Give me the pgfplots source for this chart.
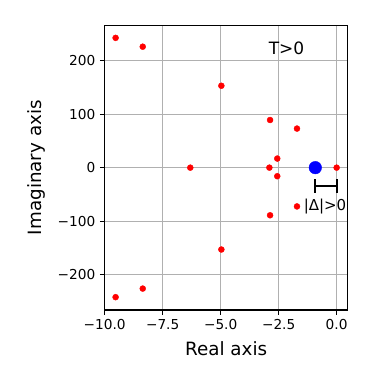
\documentclass[border=0pt]{standalone}
\usepackage{pgfplots}
\pgfplotsset{compat=1.18}
\usepackage{fontspec}
\setmainfont{DejaVu Sans}
\newcommand{\ticksize}{\fontsize{13.7}{16}\selectfont}
\newcommand{\labsize}{\fontsize{18.3}{22}\selectfont}
\definecolor{gridgray}{HTML}{B0B0B0}
\begin{document}
\begin{tikzpicture}
\path[use as bounding box] (0,0) rectangle (374pt,374pt);
\begin{axis}[
  at={(104.7pt,64pt)}, anchor=south west,
  scale only axis,
  width=243pt, height=284.7pt,
  xmin=-10.0, xmax=0.477,
  ymin=-266, ymax=266,
  xtick={-10,-7.5,-5,-2.5,0},
  xticklabels={−10.0,−7.5,−5.0,−2.5,0.0},
  ytick={-200,-100,0,100,200},
  yticklabels={−200,−100,0,100,200},
  xtick pos=bottom, ytick pos=left,
  tick align=outside,
  major tick length=4.8pt,
  tick style={black, line width=1.1pt},
  axis line style={black, line width=1.1pt},
  grid=major,
  major grid style={gridgray, line width=1.1pt},
  ticklabel style={font=\ticksize},
  xticklabel style={yshift=-1pt},
  yticklabel style={xshift=-1pt},
  xlabel={Real axis},
  ylabel={Imaginary axis},
  label style={font=\labsize},
  xlabel style={at={(axis description cs:0.5,0)}, anchor=center, yshift=-39pt},
  ylabel style={at={(axis description cs:0,0.5)}, anchor=center, yshift=68.7pt},
  clip=false,
]
\addplot[only marks, mark=*, mark size=3pt, color=red] coordinates {
  (-9.53,242.5) (-8.36,226) (-4.97,153) (-2.87,89) (-1.71,73)
  (-2.56,17) (-6.31,0) (-2.90,0) (0,0) (-2.56,-16)
  (-1.71,-72.5) (-2.87,-89) (-4.97,-153) (-8.36,-226) (-9.53,-242)
};
\addplot[only marks, mark=*, mark size=6.3pt, color=blue] coordinates {(-0.92,0)};
\addplot[black, line width=2pt, mark=|, mark size=7pt, mark options={line width=2pt}] coordinates {(-0.92,-35) (0,-35)};
\node[font=\fontsize{17}{20}\selectfont] at (axis cs:-2.16,222.6) {T>0};
\node[font=\fontsize{15}{18}\selectfont] at (axis cs:-0.5,-72.6) {|Δ|>0};
\end{axis}
\end{tikzpicture}
\end{document}
